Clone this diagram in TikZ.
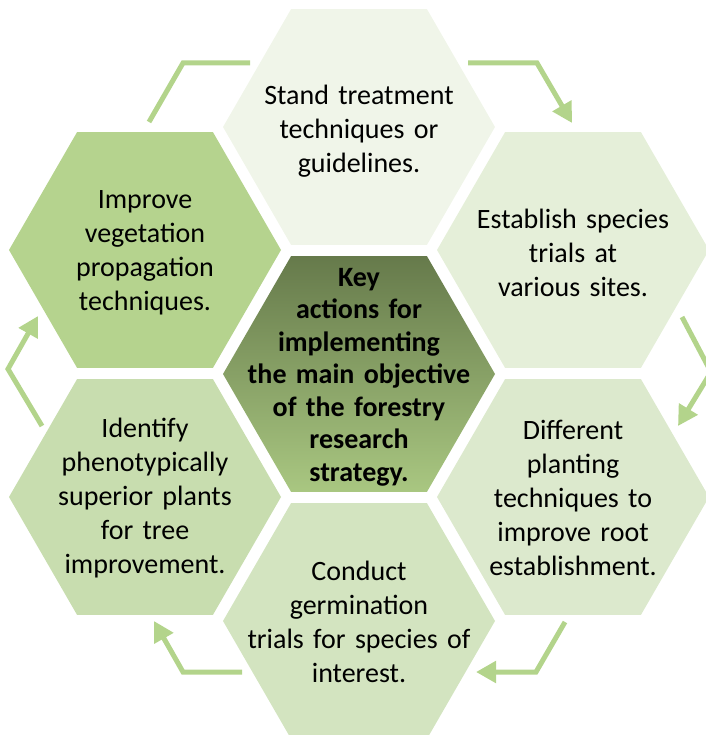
\documentclass[tikz,border=0pt]{standalone}
\usepackage{fontspec}
\setmainfont{Carlito}
\usetikzlibrary{shapes.geometric,arrows.meta}

\definecolor{cellTop}{HTML}{F0F5E9}
\definecolor{cellUR}{HTML}{E5EFD9}
\definecolor{cellLR}{HTML}{DCE9CD}
\definecolor{cellBot}{HTML}{D3E4C0}
\definecolor{cellLL}{HTML}{C8DDAF}
\definecolor{cellUL}{HTML}{B5D38E}
\definecolor{coreTop}{HTML}{667A4B}
\definecolor{coreBot}{HTML}{A9C781}
\definecolor{flowgreen}{HTML}{B3D48B}

\begin{document}
\begin{tikzpicture}[x=1pt,y=-1pt,
  hexcell/.style={regular polygon, regular polygon sides=6, minimum size=272pt,
                  inner sep=0pt, draw=none},
  celltext/.style={text width=250pt, align=center, inner sep=0pt,
                   font=\fontsize{28}{34}\selectfont},
  coretext/.style={text width=250pt, align=center, inner sep=0pt,
                   font=\fontsize{28}{32.5}\selectfont\bfseries},
  flow/.style={draw=flowgreen, line width=5pt, line join=miter},
  flowtip/.style={flow, -{Triangle[length=20pt,width=21pt]}}
]
\useasboundingbox (0,0) rectangle (705,735);

% honeycomb of six cells around the core
\node[hexcell, fill=cellTop] (top) at (359,127) {};
\node[hexcell, fill=cellUR]  (ur)  at (573,250) {};
\node[hexcell, fill=cellLR]  (lr)  at (573,497) {};
\node[hexcell, fill=cellBot] (bot) at (359,621) {};
\node[hexcell, fill=cellLL]  (ll)  at (145,497) {};
\node[hexcell, fill=cellUL]  (ul)  at (145,250) {};
\node[hexcell, shading=axis, top color=coreTop, bottom color=coreBot] (core) at (359,374) {};

% cell labels
\node[celltext] (topT) at (359,131) {Stand treatment\\techniques or\\guidelines.};
\node[celltext] (urT)  at (573,253) {Establish species\\trials at\\various sites.};
\node[celltext] (lrT)  at (573,498) {Different\\planting\\techniques to\\improve root\\establishment.};
\node[celltext] (botT) at (359,622) {Conduct\\germination\\trials for species of\\interest.};
\node[celltext] (llT)  at (145,498) {Identify\\phenotypically\\superior plants\\for tree\\improvement.};
\node[celltext] (ulT)  at (145,253) {Improve\\vegetation\\propagation\\techniques.};
\node[coretext] (coreT) at (359,377) {Key\\actions for\\implementing\\the main objective\\of the forestry\\research\\strategy.};

% cycle arrows between the outer cells
\coordinate (a1s) at (468,63);  \coordinate (a1b) at (537,63);  \coordinate (a1e) at (572,123);
\coordinate (a2s) at (682,317); \coordinate (a2b) at (711,372); \coordinate (a2e) at (678,426);
\coordinate (a3s) at (565,622); \coordinate (a3b) at (536,672); \coordinate (a3e) at (476,672);
\coordinate (a4s) at (242,672); \coordinate (a4b) at (183,672); \coordinate (a4e) at (154,621);
\coordinate (a5s) at (42,426);  \coordinate (a5b) at (8,369);   \coordinate (a5e) at (38,316);
\coordinate (a6s) at (149,122); \coordinate (a6b) at (183,63);  \coordinate (a6e) at (250,63);

\draw[flowtip] (a1s) -- (a1b) -- (a1e);
\draw[flowtip] (a2s) -- (a2b) -- (a2e);
\draw[flowtip] (a3s) -- (a3b) -- (a3e);
\draw[flowtip] (a4s) -- (a4b) -- (a4e);
\draw[flowtip] (a5s) -- (a5b) -- (a5e);
\draw[flow]    (a6s) -- (a6b) -- (a6e);
\end{tikzpicture}
\end{document}
